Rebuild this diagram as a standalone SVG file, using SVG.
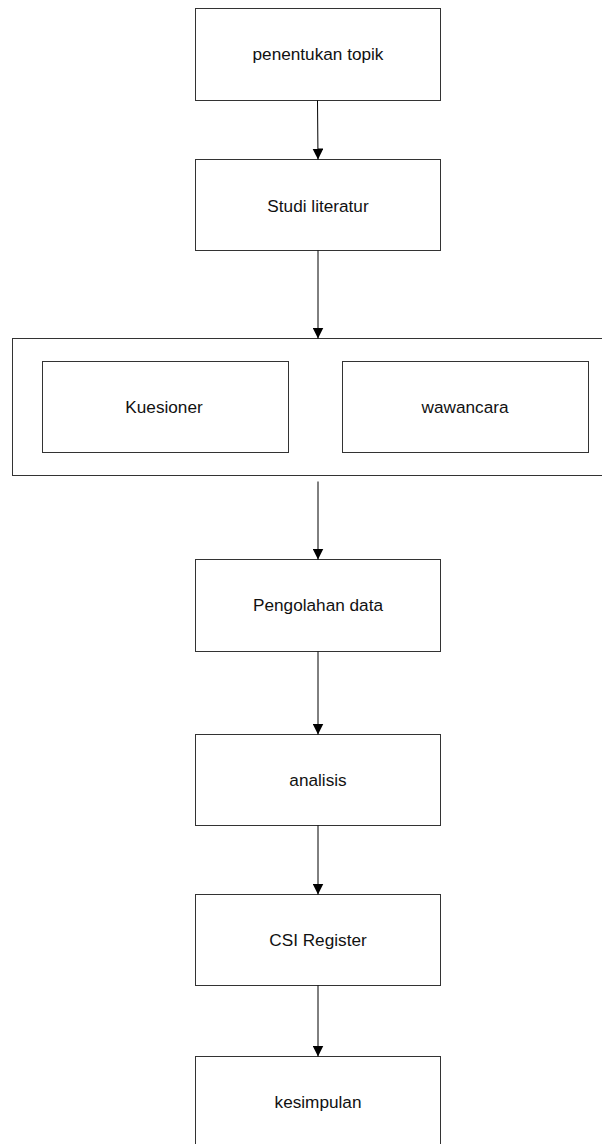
<svg xmlns="http://www.w3.org/2000/svg" width="602" height="1144" viewBox="0 0 602 1144">
<style>
.box{fill:#fff;stroke:#333;stroke-width:1}
.lbl{font-family:"Liberation Sans",Arial,sans-serif;font-size:17.2px;fill:#111;text-anchor:middle}
.con{stroke:#000;stroke-width:1;fill:none;marker-end:url(#ah)}
</style>
<defs>
<marker id="ah" markerUnits="userSpaceOnUse" markerWidth="11" markerHeight="11" refX="10" refY="5" orient="auto" viewBox="0 0 10 10">
<path d="M0,0 L10,5 L0,10 Z" fill="#000"/>
</marker>
</defs>
<rect width="602" height="1144" fill="#fff"/>
<g id="container">
<rect class="box" x="12.5" y="338.5" width="600" height="137"/>
</g>
<g id="n1"><rect class="box" x="195.5" y="8.5" width="245" height="92"/><text class="lbl" x="318" y="60">penentukan topik</text></g>
<g id="n2"><rect class="box" x="195.5" y="159.5" width="245" height="91"/><text class="lbl" x="318" y="212">Studi literatur</text></g>
<g id="n3"><rect class="box" x="42.5" y="361.5" width="246" height="91"/><text class="lbl" x="164" y="413">Kuesioner</text></g>
<g id="n4"><rect class="box" x="342.5" y="361.5" width="246" height="91"/><text class="lbl" x="465" y="413">wawancara</text></g>
<g id="n5"><rect class="box" x="195.5" y="559.5" width="245" height="92"/><text class="lbl" x="318" y="611">Pengolahan data</text></g>
<g id="n6"><rect class="box" x="195.5" y="734.5" width="245" height="91"/><text class="lbl" x="318" y="786">analisis</text></g>
<g id="n7"><rect class="box" x="195.5" y="894.5" width="245" height="91"/><text class="lbl" x="318" y="946">CSI Register</text></g>
<g id="n8"><rect class="box" x="195.5" y="1056.5" width="245" height="92"/><text class="lbl" x="318" y="1108">kesimpulan</text></g>
<g id="connectors">
<line class="con" x1="317.5" y1="100.5" x2="318" y2="159.5"/>
<line class="con" x1="318" y1="250.5" x2="318" y2="338.5"/>
<line class="con" x1="318" y1="481.5" x2="318" y2="559.5"/>
<line class="con" x1="318" y1="651.5" x2="318" y2="734.5"/>
<line class="con" x1="318" y1="825.5" x2="318" y2="894.5"/>
<line class="con" x1="318" y1="985.5" x2="318" y2="1056.5"/>
</g>
</svg>
